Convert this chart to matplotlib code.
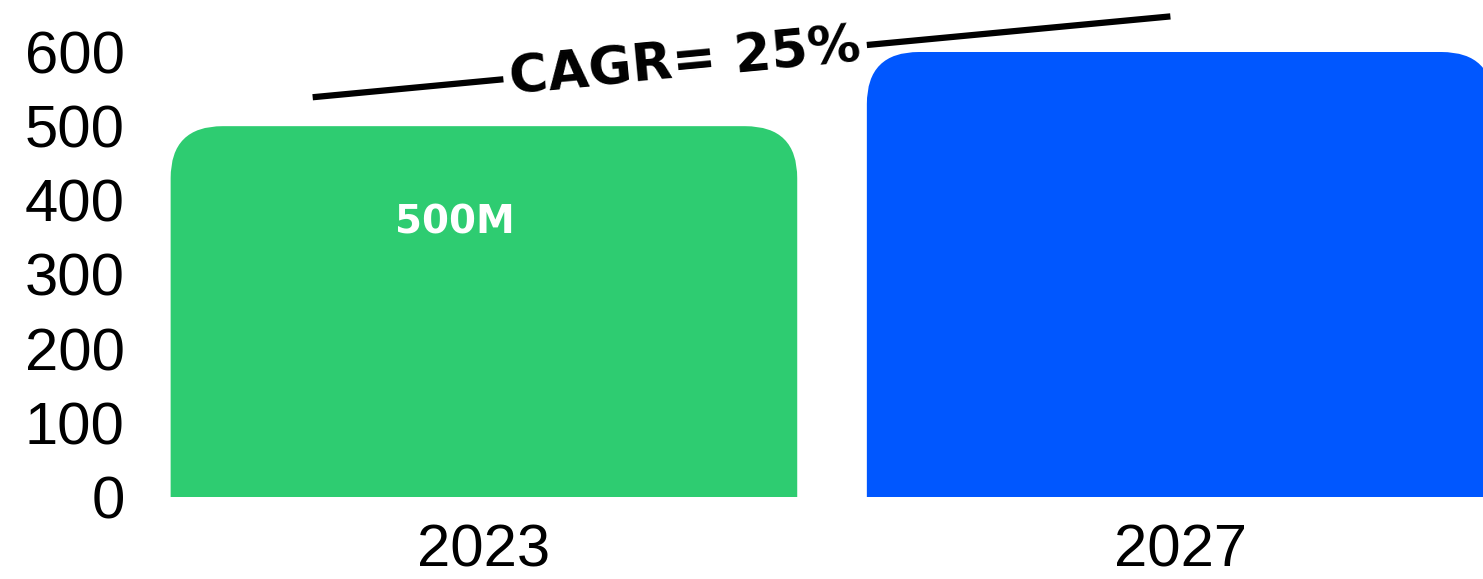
import matplotlib.pyplot as plt
from matplotlib.patches import FancyBboxPatch

plt.rcParams["font.family"] = ["Liberation Sans", "DejaVu Sans"]

years = ["2023", "2027"]
values = [500, 600]
bar_colors = ["#2ECC71", "#0057FF"]
yticks = [0, 100, 200, 300, 400, 500, 600]
bar_label = "500M"
cagr_text = "CAGR= 25%"

W, H = 1483, 579
fig = plt.figure(figsize=(W / 100, H / 100), dpi=100)
ylim_top = 660
px_per_y = 445 / 600
ax = fig.add_axes([140 / W, 82 / H, (W - 140) / W, ylim_top * px_per_y / H])
ax.set_xlim(-0.494, 1.435)
ax.set_ylim(0, ylim_top)

# rounded top corners: r in x units, mutation_aspect converts to y units
px_per_x = 696
radius = 52 / px_per_x
aspect = px_per_x / px_per_y
extra = 2 * radius * aspect  # push the bottom rounding below the axis, clipped away

bars = ax.bar(range(len(years)), values, width=0.9, color=bar_colors)
for bar in bars:
    x0, w, h, c = bar.get_x(), bar.get_width(), bar.get_height(), bar.get_facecolor()
    bar.set_visible(False)
    ax.add_patch(FancyBboxPatch((x0, -extra), w, h + extra,
                                boxstyle=f"round,pad=0,rounding_size={radius}",
                                mutation_aspect=aspect, fc=c, ec="none"))

ax.text(-0.042, 370, bar_label, color="white", fontsize=28, fontweight="bold",
        family=["DejaVu Sans"], ha="center", va="center")

# CAGR line with label on top
ax.plot([-0.246, 0.986], [539, 648], color="black", lw=4.5, clip_on=False,
        solid_capstyle="butt", zorder=3)
ax.text(0.289, 586, cagr_text, fontsize=38, fontweight="bold", family=["DejaVu Sans"],
        rotation=5.4, rotation_mode="anchor", ha="center", va="center", zorder=4,
        bbox=dict(boxstyle="square,pad=0.12", fc="white", ec="none"))

ax.set_xticks(range(len(years)), years)
ax.set_yticks(yticks)
ax.tick_params(axis="x", length=0, pad=19, labelsize=43)
ax.tick_params(axis="y", length=0, pad=11, labelsize=43)
for s in ax.spines.values():
    s.set_visible(False)

fig.savefig("out.png", dpi=100)
